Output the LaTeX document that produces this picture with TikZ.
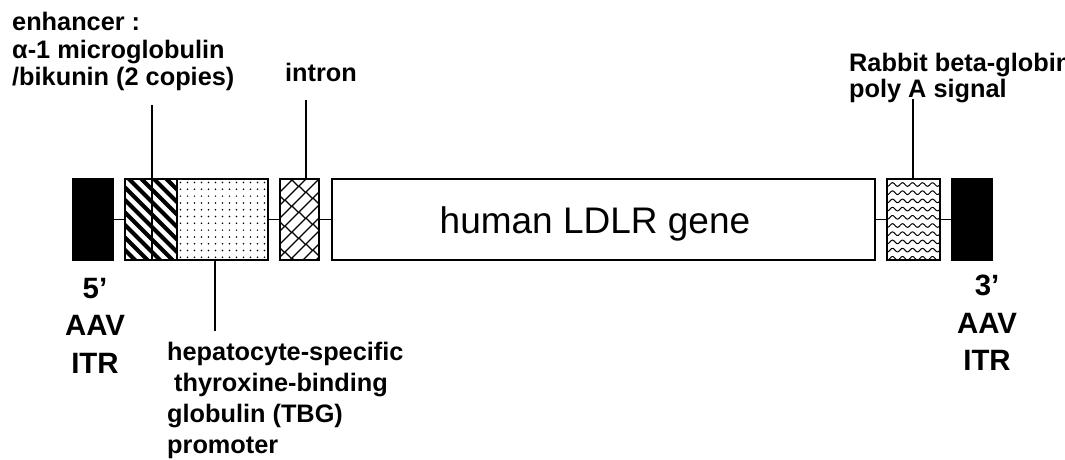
\documentclass[tikz,border=0pt]{standalone}
\usepackage{fontspec}
\newfontfamily\labfont{Liberation Sans}
\begin{document}
\begin{tikzpicture}[x=1pt,y=-1pt,
  box/.style={draw, line width=1.5pt, minimum height=81pt, inner sep=0pt, outer sep=0pt, anchor=north west, fill=white},
  conn/.style={line width=1.3pt},
  lab/.style={inner sep=0pt, align=left, anchor=north west},
  labf/.style={font={\labfont\bfseries\fontsize{25.3}{#1}\selectfont}},
  itrf/.style={font={\labfont\bfseries\fontsize{29.4}{37.5}\selectfont}}]
\useasboundingbox (0,0) rectangle (1065,459);
\fill[white] (0,0) rectangle (1065,459);
% boxes
\node[box, fill=black, minimum width=40pt] (itr5) at (73,179) {};
\node[box, minimum width=27pt] (en1) at (125,179) {};
\node[box, minimum width=25pt] (en2) at (152,179) {};
\node[box, minimum width=91pt] (prom) at (177,179) {};
\node[box, minimum width=39pt] (intr) at (280,179) {};
\node[box, minimum width=543pt] (ldlr) at (332,179) {};
\node[box, minimum width=53pt] (polyA) at (887,179) {};
\node[box, fill=black, minimum width=40pt] (itr3) at (952,179) {};
% backbone
\draw[conn] (itr5.east) -- (en1.west);
\draw[conn] (prom.east) -- (intr.west);
\draw[conn] (intr.east) -- (ldlr.west);
\draw[conn] (ldlr.east) -- (polyA.west);
\draw[conn] (polyA.east) -- (itr3.west);
% enhancer stripes
\begin{scope}
\clip (en1.north west) rectangle (en2.south east);
\foreach \c in {20,32.5,...,195} \draw[line width=4pt] (\c,170) -- (\c+100,270);
\end{scope}
\draw[line width=1.5pt] (en1.north west) rectangle (en2.south east);
\draw[line width=1.5pt] (en1.north east) -- (en1.south east);
% promoter dots
\foreach \i in {0,...,12} \foreach \j in {0,...,11} \fill (180.5+7*\i, 182.5+6.8*\j) circle (0.85);
% intron bricks
\begin{scope}
\clip (intr.north west) rectangle (intr.south east);
\foreach \k in {0,...,11} {
  \pgfmathsetmacro\u{446+13*\k}
  \pgfmathsetmacro\o{mod(\k,2)*7}
  \draw[line width=1.2pt] (\u-150,150) -- (\u-300,300);
  \foreach \a in {180,194,...,360} \draw[line width=1.2pt] (\a+\o,\u-\a-\o) -- (\a+\o+6.5,\u-\a-\o+6.5);
}
\end{scope}
% poly A waves
\begin{scope}
\clip (polyA.north west) rectangle (polyA.south east);
\foreach \j in {0,...,9} \draw[line width=1pt] plot[domain=0:57, samples=70] (885+\x, {184.5+8.2*\j + 1.8*sin(36*\x)});
\end{scope}
% labels
\node[lab, labf=27.5] (enhl) at (12,12) {enhancer :\\α-1 microglobulin\\/bikunin (2 copies)};
\node[lab, labf=27.5] (intl) at (285,63) {intron};
\node[lab, labf=25.5] (polyl) at (849,53) {Rabbit beta-globin\\poly A signal};
\node[lab, itrf, align=center, anchor=north] (itr5l) at (95,278) {5’\\AAV\\ITR};
\node[lab, itrf, align=center, anchor=north] (itr3l) at (987,275) {3’\\AAV\\ITR};
\node[lab, labf=31] (proml) at (167,342) {hepatocyte-specific\\\hspace*{7pt}thyroxine-binding\\globulin (TBG)\\promoter};
\node[font={\labfont\fontsize{37}{42}\selectfont}, anchor=base, inner sep=0pt] (ldlrt) at (595,233) {human LDLR gene};
% pointer lines
\coordinate (enhEnd) at (152,105);
\draw[conn] (enhEnd) -- (en1.north east);
\coordinate (intEnd) at (306,100);
\draw[conn] (intEnd) -- (intEnd |- intr.north);
\coordinate (polyEnd) at (913,99);
\draw[conn] (polyEnd) -- (polyEnd |- polyA.north);
\coordinate (promEnd) at (215,331);
\draw[conn] (prom.south -| promEnd) -- (promEnd);
\end{tikzpicture}
\end{document}
